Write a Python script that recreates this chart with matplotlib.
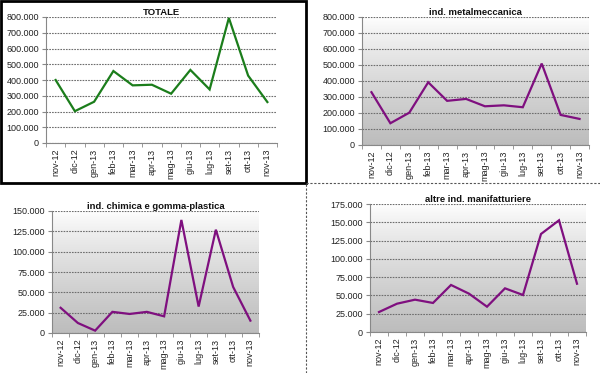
import numpy as np
import matplotlib
matplotlib.use("Agg")
import matplotlib.pyplot as plt
from matplotlib.ticker import FuncFormatter, FixedLocator
from matplotlib.lines import Line2D
from matplotlib.patches import Rectangle

plt.rcParams['font.family'] = ['Liberation Sans', 'DejaVu Sans']

months = ["nov-12", "dic-12", "gen-13", "feb-13", "mar-13", "apr-13",
          "mag-13", "giu-13", "lug-13", "set-13", "ott-13", "nov-13"]

totale = [400000, 202000, 262000, 457000, 366000, 370000,
          313000, 464000, 340000, 794000, 428000, 260000]
metalmeccanica = [330000, 136000, 202000, 392000, 276000, 288000,
                  242000, 248000, 236000, 509000, 188000, 163000]
chimica = [31000, 12300, 2900, 26000, 23400, 26000,
           20500, 139000, 32500, 127000, 56700, 15200]
altre = [27300, 38700, 44200, 39700, 64300, 52400,
         34600, 59700, 50600, 134000, 152700, 66000]

W, H = 600, 373
fig = plt.figure(figsize=(W / 100, H / 100), dpi=100)


def px_axes(l, t, r, b):
    return fig.add_axes([l / W, (H - b) / H, (r - l) / W, (b - t) / H])


def fmt(v, _):
    if v == 0:
        return "0"
    return f"{int(v):,}".replace(",", ".")


def style(ax, data, color, title, ymax, ystep, gradient):
    x = np.arange(len(months))
    if gradient:
        g = np.linspace(0, 1, 256) ** 0.8
        top = np.array([1.0, 1.0, 1.0])
        bot = np.array([0.74, 0.74, 0.74])
        img = top[None, :] + (bot - top)[None, :] * g[:, None]
        img = img.reshape(256, 1, 3)
        ax.imshow(img, extent=[-0.5, len(months) - 0.5, 0, ymax],
                  origin='upper', aspect='auto', zorder=0)
    ax.set_xlim(-0.5, len(months) - 0.5)
    ax.set_ylim(0, ymax)
    ax.set_yticks(np.arange(0, ymax + 1, ystep))
    ax.yaxis.set_major_formatter(FuncFormatter(fmt))
    ax.grid(axis='y', color='#6e6e6e', linestyle=(0, (1.5, 1)), linewidth=0.8, zorder=1)
    ax.set_axisbelow(False)
    ax.plot(x, data, color=color, linewidth=1.6, zorder=3, solid_joinstyle='miter')
    ax.set_xticks(x)
    ax.set_xticklabels(months, rotation=90)
    ax.xaxis.set_minor_locator(FixedLocator(np.arange(-0.5, len(months), 1)))
    ax.tick_params(axis='x', which='major', length=0, labelsize=6.5, pad=4, colors='#222222')
    ax.tick_params(axis='x', which='minor', length=3, color='#888888')
    ax.tick_params(axis='y', length=3, labelsize=6.5, color='#888888', labelcolor='#222222', pad=2)
    for s in ('top', 'right'):
        ax.spines[s].set_visible(False)
    for s in ('left', 'bottom'):
        ax.spines[s].set_color('#888888')
        ax.spines[s].set_linewidth(0.8)
    ax.set_title(title, fontsize=6.8, fontweight='bold', pad=1, color='#111111')


ax1 = px_axes(46, 17, 277, 143)
style(ax1, totale, '#1b7d1b', 'TOTALE', 800000, 100000, False)
ax2 = px_axes(362, 17, 589, 145)
style(ax2, metalmeccanica, '#7f0f7f', 'ind. metalmeccanica', 800000, 100000, True)
ax3 = px_axes(52, 211, 259, 333)
style(ax3, chimica, '#7f0f7f', 'ind. chimica e gomma-plastica', 150000, 25000, True)
ax4 = px_axes(370, 204, 586, 332)
style(ax4, altre, '#7f0f7f', 'altre ind. manifatturiere', 175000, 25000, True)

# TOTALE frame
fig.add_artist(Rectangle((1 / W, (H - 183) / H), 305 / W, 182 / H,
                         transform=fig.transFigure, fill=False,
                         edgecolor='black', linewidth=2))
# dashed separators
fig.add_artist(Line2D([306 / W, 1], [(H - 183) / H] * 2, transform=fig.transFigure,
                      color='#555555', linestyle=(0, (2, 1.5)), linewidth=0.8))
fig.add_artist(Line2D([306 / W] * 2, [0, (H - 183) / H], transform=fig.transFigure,
                      color='#555555', linestyle=(0, (2, 1.5)), linewidth=0.8))

fig.savefig("out.png", dpi=100)
